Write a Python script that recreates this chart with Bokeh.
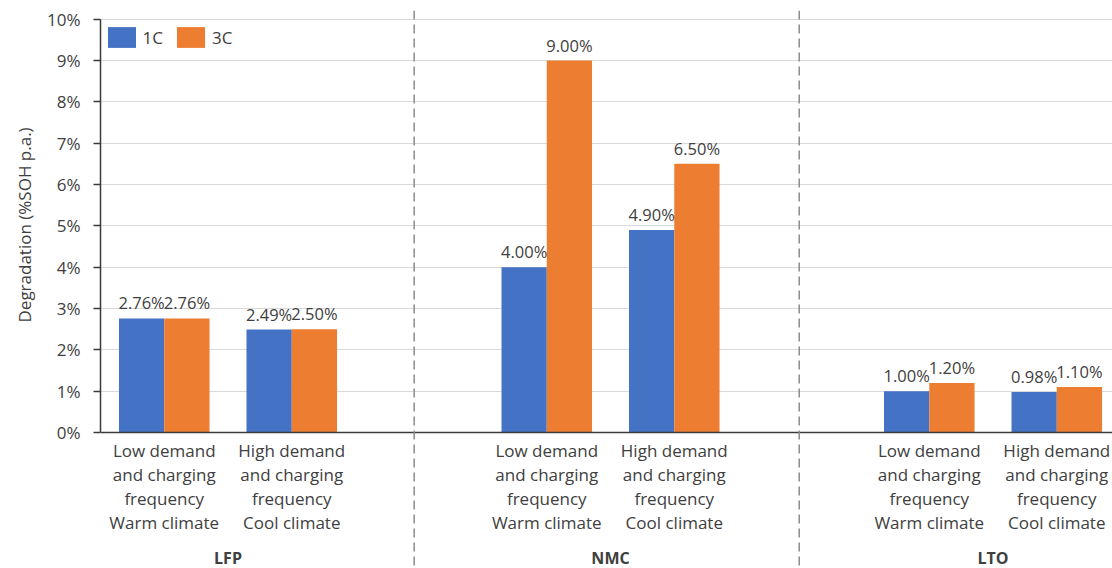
from bokeh.plotting import figure
from bokeh.models import (ColumnDataSource, FixedTicker, PrintfTickFormatter,
                          Span, Legend, LegendItem, Range1d, Title)
from bokeh.core.properties import value
from bokeh.embed import file_html
from bokeh.resources import INLINE

# --- data -------------------------------------------------------------
materials = ["LFP", "NMC", "LTO"]
scenarios = ["Low demand\nand charging\nfrequency\nWarm climate",
             "High demand\nand charging\nfrequency\nCool climate"]
rate_1c = [2.76, 2.49, 4.00, 4.90, 1.00, 0.98]   # % SOH per year
rate_3c = [2.76, 2.50, 9.00, 6.50, 1.20, 1.10]
y_ticks = list(range(0, 11))

# --- layout of category slots (8 slots, one spare per chemistry) ------
slot_of = [1, 2, 4, 5, 7, 8]
group_slots = [(1, 2), (4, 5), (7, 8)]
separators = [2.96, 5.98]
bar_w = 0.355
FONT = "Open Sans"
FS = "17px"
TXT = "#404040"
BLUE = "#4472C4"
ORANGE = "#ED7D31"

p = figure(width=1112, height=568, output_backend="svg", toolbar_location=None,
           x_range=Range1d(0.5, 8.437), y_range=Range1d(-3.29, 10.21),
           x_axis_location=None, min_border_left=100, min_border_right=0,
           min_border_top=10, min_border_bottom=0)
p.outline_line_color = None
p.background_fill_color = "white"
p.xgrid.visible = False
p.ygrid.grid_line_color = "#d9d9d9"
p.ygrid.grid_line_width = 1
p.ygrid.ticker = FixedTicker(ticks=y_ticks)

yax = p.yaxis[0]
yax.ticker = FixedTicker(ticks=y_ticks)
yax.formatter = PrintfTickFormatter(format="%d%%")
yax.bounds = (0, 10)
yax.axis_line_color = "#3a3a3a"
yax.axis_line_width = 1.5
yax.major_tick_line_color = "#3a3a3a"
yax.major_tick_line_width = 1.5
yax.major_tick_in = 0
yax.major_tick_out = 7
yax.minor_tick_line_color = None
yax.major_label_standoff = 13
yax.major_label_text_font = FONT
yax.major_label_text_font_size = FS
yax.major_label_text_color = TXT

# y-axis title, placed along the 0-10% span of the axis
p.add_layout(Title(text="Degradation (%SOH p.a.)", align="left", offset=246,
                   standoff=18, text_font=FONT, text_font_size=FS,
                   text_font_style="normal", text_color=TXT), "left")

xs = [s - bar_w / 2 for s in slot_of]
xo = [s + bar_w / 2 for s in slot_of]
src = ColumnDataSource(dict(
    x1=xs, x3=xo, v1=rate_1c, v3=rate_3c,
    l1=[f"{v:.2f}%" for v in rate_1c], l3=[f"{v:.2f}%" for v in rate_3c]))

r1 = p.vbar(x="x1", top="v1", width=bar_w, bottom=0, source=src,
            fill_color=BLUE, line_color=None)
r3 = p.vbar(x="x3", top="v3", width=bar_w, bottom=0, source=src,
            fill_color=ORANGE, line_color=None)

for xcol, lcol, vcol in (("x1", "l1", "v1"), ("x3", "l3", "v3")):
    p.text(x=xcol, y=vcol, text=lcol, source=src, text_align="center",
           text_baseline="bottom", y_offset=-4, text_font=value(FONT),
           text_font_size="16.5px", text_color=TXT)

# baseline and chemistry separators
p.add_layout(Span(location=0, dimension="width", line_color="#3a3a3a",
                  line_width=1.5))
for s in separators:
    p.add_layout(Span(location=s, dimension="height", line_color="#8c8c8c",
                      line_width=1.5, line_dash="9 5"))

# scenario labels under each bar pair
p.text(x=slot_of, y=[0] * len(slot_of), text=scenarios * len(materials),
       text_align="center", text_baseline="top", y_offset=6.5,
       text_line_height=1.05, text_font=value(FONT), text_font_size=FS,
       text_color=TXT)

# chemistry labels
p.text(x=[(a + b) / 2 for a, b in group_slots], y=[0] * len(materials),
       text=materials, text_align="center", text_baseline="middle",
       y_offset=125, text_font=value(FONT), text_font_size="16px",
       text_font_style="bold", text_color=TXT)

legend = Legend(items=[LegendItem(label="1C", renderers=[r1]),
                       LegendItem(label="3C", renderers=[r3])],
                orientation="horizontal", location=(3.5, 517.6),
                glyph_width=35, glyph_height=26, label_standoff=4,
                spacing=10, padding=4, margin=0,
                label_text_font=FONT, label_text_font_size=FS,
                label_text_color=TXT, border_line_color=None,
                background_fill_alpha=0)
p.add_layout(legend)

open("out.html", "w").write(file_html(p, INLINE))
